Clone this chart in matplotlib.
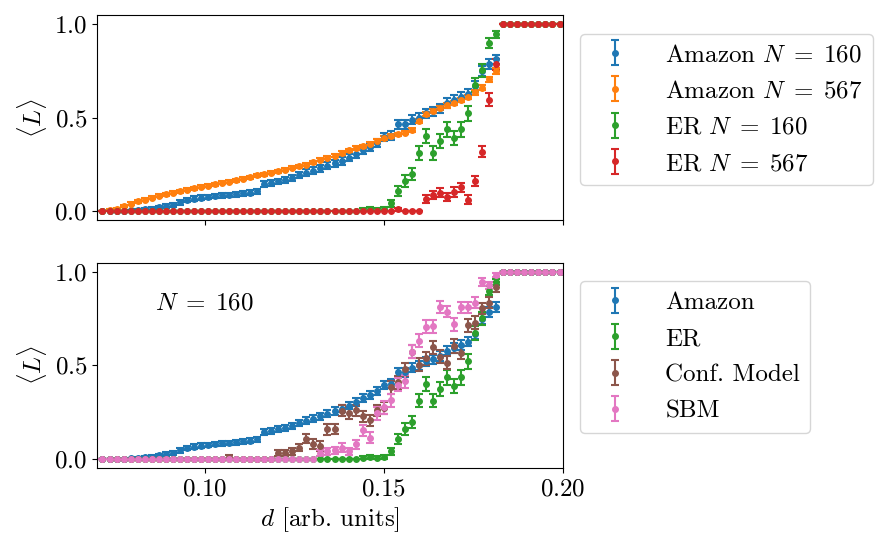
import numpy as np
import matplotlib
matplotlib.use("Agg")
import matplotlib.pyplot as plt

plt.rcParams["font.family"] = "serif"
plt.rcParams["font.serif"] = ["cmr10"]
plt.rcParams["mathtext.fontset"] = "cm"
plt.rcParams["axes.formatter.use_mathtext"] = True
plt.rcParams["font.size"] = 18

# d grid (sampling points of the sweep)
d = np.linspace(0.0715, 0.199, 66)

# <L> values, one entry per d
amazon_160 = [0, 0, 0, 0, 0.003, 0.005, 0.008, 0.012, 0.018, 0.025,
              0.03, 0.045, 0.058, 0.065, 0.07, 0.075, 0.078, 0.082, 0.085, 0.088,
              0.093, 0.098, 0.105, 0.145, 0.15, 0.158, 0.165, 0.178, 0.19, 0.205,
              0.215, 0.228, 0.242, 0.255, 0.268, 0.285, 0.305, 0.325, 0.342, 0.365,
              0.395, 0.403, 0.463, 0.463, 0.488, 0.5, 0.523, 0.533, 0.55, 0.578,
              0.594, 0.61, 0.627, 0.668, 0.75, 0.787, 0.812, 1, 1, 1,
              1, 1, 1, 1, 1, 1]
amazon_160_err = [0, 0, 0, 0, 0.003, 0.005, 0.006, 0.008, 0.01, 0.01,
                  0.01, 0.012, 0.012, 0.012, 0.012, 0.012, 0.012, 0.012, 0.012, 0.012,
                  0.012, 0.012, 0.014, 0.015, 0.015, 0.015, 0.015, 0.016, 0.016, 0.017,
                  0.018, 0.018, 0.019, 0.02, 0.02, 0.02, 0.021, 0.021, 0.022, 0.022,
                  0.022, 0.023, 0.023, 0.023, 0.024, 0.024, 0.024, 0.025, 0.025, 0.025,
                  0.025, 0.025, 0.025, 0.026, 0.026, 0.026, 0.025, 0, 0, 0,
                  0, 0, 0, 0, 0, 0]

amazon_567 = [0, 0.005, 0.012, 0.025, 0.038, 0.05, 0.06, 0.07, 0.08, 0.088,
              0.097, 0.105, 0.113, 0.12, 0.128, 0.135, 0.142, 0.15, 0.157, 0.165,
              0.172, 0.18, 0.19, 0.197, 0.205, 0.213, 0.22, 0.23, 0.238, 0.248,
              0.26, 0.275, 0.285, 0.295, 0.31, 0.325, 0.335, 0.345, 0.36, 0.375,
              0.39, 0.4, 0.41, 0.42, 0.435, 0.48, 0.52, 0.535, 0.55, 0.565,
              0.58, 0.595, 0.61, 0.635, 0.66, 0.705, 0.75, 1, 1, 1,
              1, 1, 1, 1, 1, 1]
amazon_567_err = [0, 0.003, 0.005, 0.006, 0.007, 0.008, 0.008, 0.008, 0.008, 0.008,
                  0.008, 0.008, 0.008, 0.008, 0.008, 0.008, 0.008, 0.008, 0.008, 0.008,
                  0.008, 0.008, 0.008, 0.008, 0.008, 0.008, 0.008, 0.008, 0.009, 0.009,
                  0.009, 0.009, 0.009, 0.009, 0.009, 0.009, 0.01, 0.01, 0.01, 0.01,
                  0.01, 0.01, 0.01, 0.01, 0.01, 0.01, 0.01, 0.011, 0.011, 0.011,
                  0.011, 0.012, 0.012, 0.013, 0.014, 0.015, 0.015, 0, 0, 0,
                  0, 0, 0, 0, 0, 0]

er_160 = [0] * 37 + [0.005, 0.008, 0.005, 0.01, 0.04, 0.105, 0.16, 0.196, 0.31,
                     0.40, 0.31, 0.375, 0.437, 0.39, 0.437, 0.523, 0.673, 0.753, 0.90,
                     0.946, 1, 1, 1, 1, 1, 1, 1, 1, 1]
er_160_err = [0] * 37 + [0.008, 0.01, 0.008, 0.012, 0.02, 0.028, 0.03, 0.032, 0.035,
                         0.038, 0.035, 0.038, 0.04, 0.038, 0.04, 0.04, 0.038, 0.035, 0.025,
                         0.018, 0, 0, 0, 0, 0, 0, 0, 0, 0]

er_567 = [0] * 42 + [0.008, 0, 0, 0, 0.063, 0.086, 0.098, 0.073, 0.10, 0.125,
                     0.06, 0.16, 0.316, 0.595, 0.786, 1, 1, 1, 1, 1,
                     1, 1, 1, 1]
er_567_err = [0] * 42 + [0.008, 0, 0, 0, 0.02, 0.022, 0.022, 0.022, 0.025, 0.025,
                         0.022, 0.025, 0.03, 0.035, 0.03, 0, 0, 0, 0, 0,
                         0, 0, 0, 0]

conf_160 = [0] * 18 + [0.01, 0, 0, 0, 0, 0, 0, 0.03, 0.03, 0.04,
                       0.06, 0.107, 0.08, 0.068, 0.157, 0.16, 0.258, 0.245, 0.26, 0.227,
                       0.206, 0.26, 0.272, 0.382, 0.409, 0.48, 0.574, 0.503, 0.538, 0.597,
                       0.547, 0.515, 0.604, 0.568, 0.716, 0.728, 0.805, 0.835, 0.92, 1,
                       1, 1, 1, 1, 1, 1, 1, 1]
conf_160_err = [0] * 18 + [0.01, 0, 0, 0, 0, 0, 0, 0.015, 0.015, 0.018,
                           0.02, 0.025, 0.025, 0.025, 0.028, 0.028, 0.03, 0.03, 0.03, 0.03,
                           0.03, 0.03, 0.032, 0.035, 0.035, 0.035, 0.035, 0.035, 0.035, 0.035,
                           0.035, 0.035, 0.035, 0.035, 0.035, 0.035, 0.03, 0.03, 0.025, 0,
                           0, 0, 0, 0, 0, 0, 0, 0]

sbm_160 = [0] * 31 + [0.03, 0.04, 0.045, 0.06, 0.04, 0.078, 0.153, 0.112, 0.245, 0.277,
                      0.313, 0.396, 0.414, 0.574, 0.632, 0.707, 0.71, 0.813, 0.787, 0.72,
                      0.81, 0.81, 0.835, 0.947, 0.929, 0.982, 1, 1, 1, 1,
                      1, 1, 1, 1, 1]
sbm_160_err = [0] * 31 + [0.015, 0.018, 0.02, 0.022, 0.02, 0.025, 0.03, 0.03, 0.035, 0.035,
                          0.035, 0.035, 0.035, 0.035, 0.035, 0.035, 0.035, 0.03, 0.03, 0.035,
                          0.03, 0.03, 0.03, 0.02, 0.02, 0.01, 0, 0, 0, 0,
                          0, 0, 0, 0, 0]

style = dict(fmt="o", ms=4, capsize=3, elinewidth=1.5, capthick=1.5)

fig = plt.figure(figsize=(8.91, 5.6), dpi=100)
ax1 = fig.add_axes([0.109, 0.607, 0.523, 0.366])
ax2 = fig.add_axes([0.109, 0.164, 0.523, 0.367], sharex=ax1)

ax1.errorbar(d, amazon_160, yerr=amazon_160_err, color="tab:blue", label=r"Amazon $N\;=\;160$", **style)
ax1.errorbar(d, amazon_567, yerr=amazon_567_err, color="tab:orange", label=r"Amazon $N\;=\;567$", **style)
ax1.errorbar(d, er_160, yerr=er_160_err, color="tab:green", label=r"ER $N\;=\;160$", **style)
ax1.errorbar(d, er_567, yerr=er_567_err, color="tab:red", label=r"ER $N\;=\;567$", **style)

ax2.errorbar(d, amazon_160, yerr=amazon_160_err, color="tab:blue", label="Amazon", **style)
ax2.errorbar(d, er_160, yerr=er_160_err, color="tab:green", label="ER", **style)
ax2.errorbar(d, conf_160, yerr=conf_160_err, color="tab:brown", label="Conf. Model", **style)
ax2.errorbar(d, sbm_160, yerr=sbm_160_err, color="tab:pink", label="SBM", **style)

ax2.text(0.125, 0.8, r"$N\;=\;160$", transform=ax2.transAxes, va="center", ha="left")

for ax in (ax1, ax2):
    ax.set_ylabel(r"$\langle L\rangle$")
    ax.set_ylim(-0.05, 1.05)
    ax.set_yticks([0.0, 0.5, 1.0])
    ax.legend(loc="upper left", bbox_to_anchor=(1.01, 0.97), handletextpad=1.0,
              labelspacing=0.55)

ax1.set_xlim(0.07, 0.2)
ax2.set_xticks([0.10, 0.15, 0.20])
ax1.tick_params(labelbottom=False)
ax2.set_xlabel(r"$d$ [arb. units]")

fig.savefig("out.png", dpi=100)
